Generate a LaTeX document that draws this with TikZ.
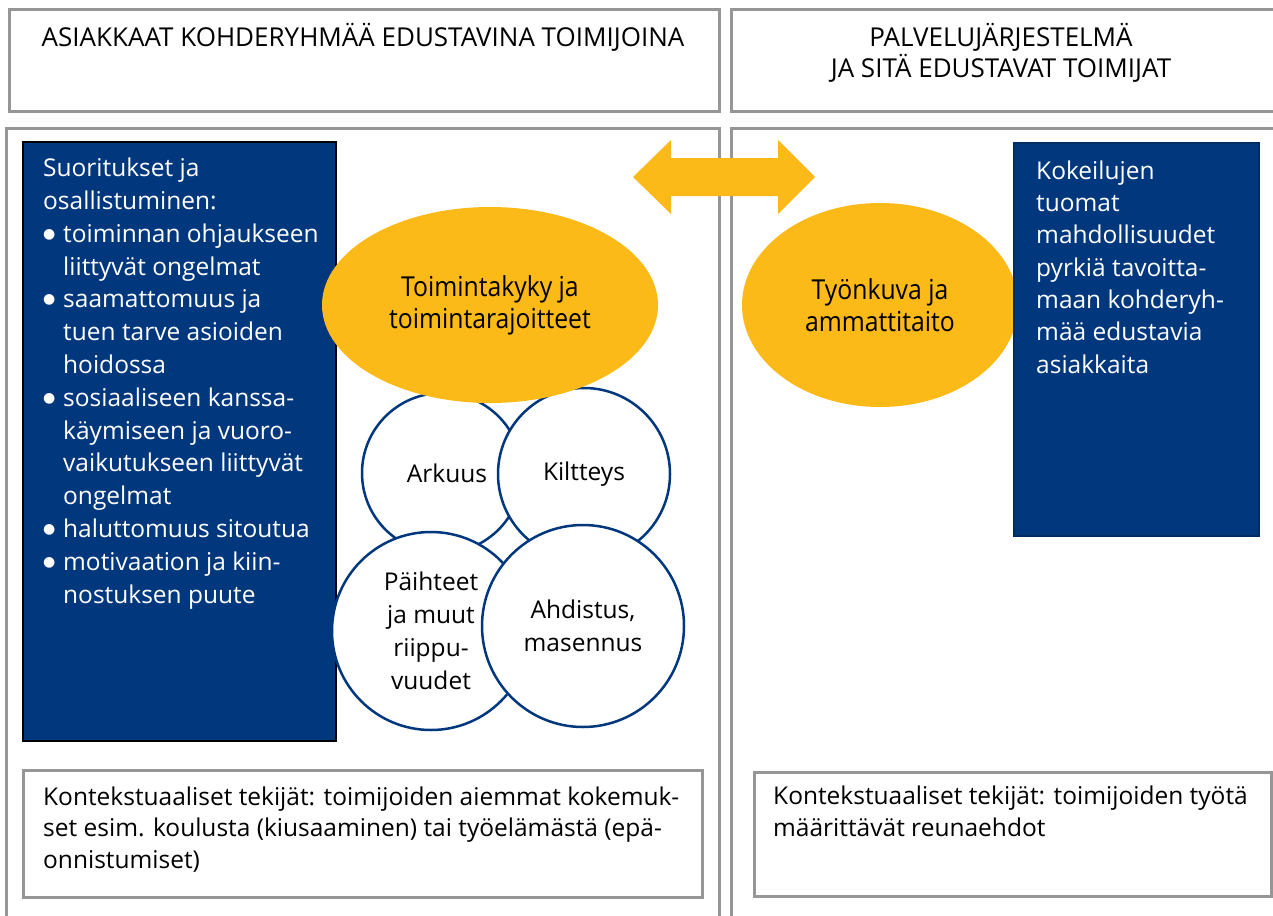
\documentclass[tikz,border=0pt]{standalone}
\usepackage{fontspec}
\setmainfont{Open Sans}
\newfontfamily\narrowfont{Open Sans}[FakeStretch=0.9]
\newfontfamily\symfont{DejaVu Sans}
\usetikzlibrary{shapes.geometric}
\definecolor{navy}{RGB}{0,55,125}
\definecolor{gold}{RGB}{252,186,24}
\definecolor{frame}{RGB}{150,150,150}
\tikzset{
  panel/.style={draw=frame, line width=3pt, fill=white, anchor=north west, inner sep=0pt},
  subpanel/.style={draw=frame, line width=2.5pt, fill=white, anchor=north west, inner sep=0pt},
  txt/.style={font=\fontsize{24.5}{32.8}\selectfont, inner sep=0pt},
  ttl/.style={font=\fontsize{26}{31}\selectfont, inner sep=0pt, align=center, anchor=base},
  wtxt/.style={txt, text=white, align=left, anchor=base west},
  bubble/.style={circle, draw=navy, line width=2.5pt, fill=white, inner sep=0pt, align=center, txt},
  oval/.style={ellipse, fill=gold, inner sep=0pt, align=center, font=\narrowfont\fontsize{27.5}{32}\selectfont},
  bluebox/.style={fill=navy, draw=black, line width=1.5pt, anchor=north west, inner sep=0pt}
}
\newcommand{\bul}{\makebox[20pt][l]{\raisebox{4pt}[0pt][0pt]{\symfont\fontsize{14}{14}\selectfont ●}}}
\newcommand{\ind}{\hspace*{20pt}}
\begin{document}
\begin{tikzpicture}[x=1pt,y=-1pt]
\useasboundingbox[fill=white] (0,0) rectangle (1273,915);
% header panels
\node[panel, minimum width=710pt, minimum height=102pt] (titleL) at (8,8) {};
\node[panel, minimum width=560pt, minimum height=102pt] (titleR) at (730,8) {};
\node[ttl] (titleLtxt) at (363,47) {ASIAKKAAT KOHDERYHMÄÄ EDUSTAVINA TOIMIJOINA};
\node[ttl] (titleRtxt) at (1001,78) {PALVELUJÄRJESTELMÄ\\JA SITÄ EDUSTAVAT TOIMIJAT};
% main panels
\node[panel, minimum width=713pt, minimum height=820pt] (mainL) at (5,127) {};
\node[panel, minimum width=560pt, minimum height=820pt] (mainR) at (730,127) {};
% left blue box
\node[bluebox, minimum width=313pt, minimum height=599pt] (blueL) at (22,141) {};
\node[wtxt] (blueLtxt) at (43,603) {Suoritukset ja\\
osallistuminen:\\
\bul toiminnan ohjaukseen\\
\ind liittyvät ongelmat\\
\bul saamattomuus ja\\
\ind tuen tarve asioiden\\
\ind hoidossa\\
\bul sosiaaliseen kanssa-\\
\ind käymiseen ja vuoro-\\
\ind vaikutukseen liittyvät\\
\ind ongelmat\\
\bul haluttomuus sitoutua\\
\bul motivaation ja kiin-\\
\ind nostuksen puute};
% circles
\node[bubble, minimum size=160pt] (arkuus) at (442,473) {\hspace*{10pt}Arkuus};
\node[bubble, minimum size=172pt] (kiltteys) at (584,474) {Kiltteys};
\node[bubble, minimum size=198pt] (paihteet) at (431,631) {Päihteet\\ja muut\\riippu-\\vuudet};
\node[bubble, minimum size=202pt] (ahdistus) at (583,626) {Ahdistus,\\masennus};
% ellipses
\node[oval, minimum width=336pt, minimum height=196pt] (toimintakyky) at (490,305) {Toimintakyky ja\\toimintarajoitteet};
\node[oval, minimum width=276pt, minimum height=204pt] (tyonkuva) at (880,305) {Työnkuva ja\\ammattitaito};
% right blue box
\node[bluebox, draw=navy!80!black, minimum width=245pt, minimum height=393pt] (blueR) at (1013,142) {};
\node[wtxt, font=\fontsize{24.5}{32.3}\selectfont] (blueRtxt) at (1036,373) {Kokeilujen\\tuomat\\mahdollisuudet\\pyrkiä tavoitta-\\maan kohderyh-\\mää edustavia\\asiakkaita};
% double arrow
\fill[gold] (633,177) -- (671,140) -- (671,158) -- (778,158) -- (778,140) -- (815,177)
  -- (778,214) -- (778,196) -- (671,196) -- (671,214) -- cycle;
% bottom context boxes
\node[subpanel, minimum width=679pt, minimum height=127pt] (ctxL) at (22,769) {};
\node[txt, font=\fontsize{24.5}{31.5}\selectfont, align=left, anchor=base west] (ctxLtxt) at (43,868) {Kontekstuaaliset tekijät: toimijoiden aiemmat kokemuk-\\set esim. koulusta (kiusaaminen) tai työelämästä (epä-\\onnistumiset)};
\node[subpanel, minimum width=517pt, minimum height=124pt] (ctxR) at (753,771) {};
\node[txt, font=\fontsize{24.5}{31.5}\selectfont, align=left, anchor=base west] (ctxRtxt) at (773,836) {Kontekstuaaliset tekijät: toimijoiden työtä\\määrittävät reunaehdot};
\end{tikzpicture}
\end{document}
